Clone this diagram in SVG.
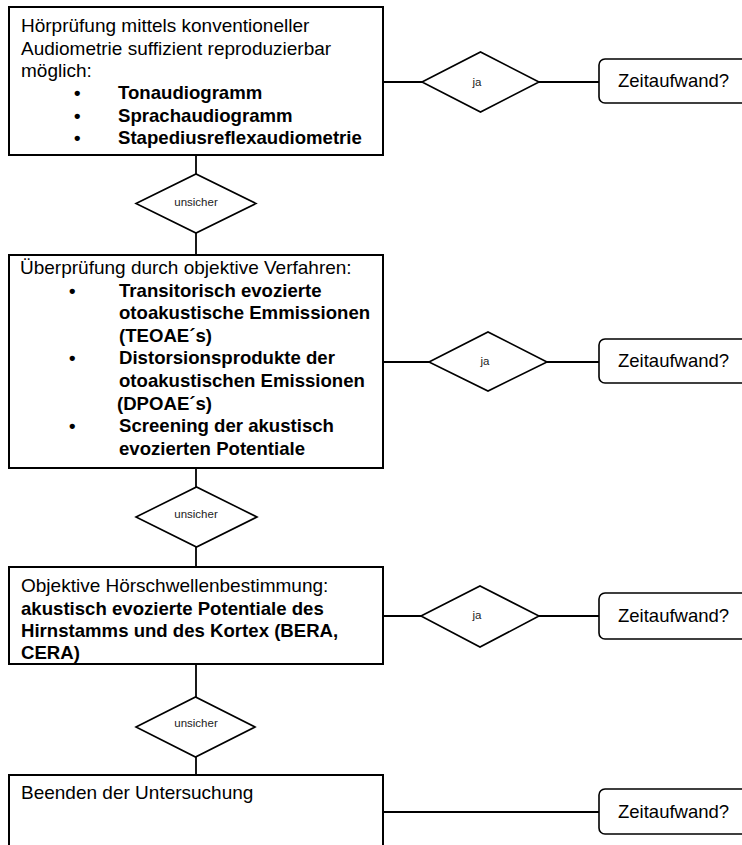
<svg xmlns="http://www.w3.org/2000/svg" width="742" height="845" viewBox="0 0 742 845">
<style>
.box{fill:#fff;stroke:#000;stroke-width:2}
.dia{fill:#fff;stroke:#000;stroke-width:1.6}
.rr{fill:#fff;stroke:#000;stroke-width:1.6}
.con{fill:none;stroke:#000;stroke-width:1.8}
text{font-family:"Liberation Sans",Arial,sans-serif;fill:#000}
.t{font-size:19px}
.b{font-size:18.6px;font-weight:bold}
.s{font-size:11.5px;fill:#222}
.z{font-size:18.5px}
</style>
<rect width="742" height="845" fill="#fff"/>
<g id="connectors">
<line class="con" x1="383" y1="82" x2="422" y2="82"/>
<line class="con" x1="539" y1="82" x2="599" y2="82"/>
<line class="con" x1="383" y1="362" x2="429" y2="362"/>
<line class="con" x1="547" y1="362" x2="599" y2="362"/>
<line class="con" x1="383" y1="616" x2="421" y2="616"/>
<line class="con" x1="539" y1="616" x2="599" y2="616"/>
<line class="con" x1="383" y1="812" x2="599" y2="812"/>
<line class="con" x1="196" y1="155" x2="196" y2="174"/>
<line class="con" x1="196" y1="233" x2="196" y2="255"/>
<line class="con" x1="196" y1="468" x2="196" y2="487"/>
<line class="con" x1="196" y1="547" x2="196" y2="567"/>
<line class="con" x1="196" y1="664" x2="196" y2="697"/>
<line class="con" x1="196" y1="757" x2="196" y2="775"/>
</g>
<g id="box1">
<rect class="box" x="9" y="7" width="374" height="148"/>
<text class="t" x="21" y="32">Hörprüfung mittels konventioneller</text>
<text class="t" x="21" y="54.5">Audiometrie suffizient reproduzierbar</text>
<text class="t" x="21" y="77">möglich:</text>
<text class="b" x="74" y="99">•</text>
<text class="b" x="74" y="121.5">•</text>
<text class="b" x="74" y="144">•</text>
<text class="b" x="118" y="99">Tonaudiogramm</text>
<text class="b" x="118" y="121.5">Sprachaudiogramm</text>
<text class="b" x="118" y="144">Stapediusreflexaudiometrie</text>
</g>
<g id="ja1">
<polygon class="dia" points="422,82 480.5,52 539,82 480.5,112"/>
<text class="s" x="477" y="86" text-anchor="middle">ja</text>
</g>
<g id="zeit1">
<rect class="rr" x="599" y="59" width="160" height="44" rx="6"/>
<text class="z" x="618" y="87">Zeitaufwand?</text>
</g>
<g id="unsicher1">
<polygon class="dia" points="136,203.5 196,174 256,203.5 196,233"/>
<text class="s" x="196" y="206" text-anchor="middle">unsicher</text>
</g>
<g id="box2">
<rect class="box" x="9" y="255" width="374" height="213"/>
<text class="t" x="20" y="274">Überprüfung durch objektive Verfahren:</text>
<text class="b" x="69" y="296.6">•</text>
<text class="b" x="69" y="364.4">•</text>
<text class="b" x="69" y="432.2">•</text>
<text class="b" x="119" y="296.6">Transitorisch evozierte</text>
<text class="b" x="119" y="319.2">otoakustische Emmissionen</text>
<text class="b" x="119" y="341.8">(TEOAE´s)</text>
<text class="b" x="119" y="364.4">Distorsionsprodukte der</text>
<text class="b" x="119" y="387">otoakustischen Emissionen</text>
<text class="b" x="117" y="409.6">(DPOAE´s)</text>
<text class="b" x="119" y="432.2">Screening der akustisch</text>
<text class="b" x="119" y="454.8">evozierten Potentiale</text>
</g>
<g id="ja2">
<polygon class="dia" points="429,362 488,332 547,362 488,391"/>
<text class="s" x="485" y="365" text-anchor="middle">ja</text>
</g>
<g id="zeit2">
<rect class="rr" x="599" y="339" width="160" height="44" rx="6"/>
<text class="z" x="618" y="367">Zeitaufwand?</text>
</g>
<g id="unsicher2">
<polygon class="dia" points="136,517 196.5,487 257,517 196.5,547"/>
<text class="s" x="196" y="518" text-anchor="middle">unsicher</text>
</g>
<g id="box3">
<rect class="box" x="9" y="567" width="374" height="97"/>
<text class="t" x="21" y="592">Objektive Hörschwellenbestimmung:</text>
<text class="b" x="21" y="614.5">akustisch evozierte Potentiale des</text>
<text class="b" x="21" y="637">Hirnstamms und des Kortex (BERA,</text>
<text class="b" x="21" y="658.5">CERA)</text>
</g>
<g id="ja3">
<polygon class="dia" points="421,616 480,586 539,616 480,647"/>
<text class="s" x="477" y="619" text-anchor="middle">ja</text>
</g>
<g id="zeit3">
<rect class="rr" x="599" y="593" width="160" height="46" rx="6"/>
<text class="z" x="618" y="622">Zeitaufwand?</text>
</g>
<g id="unsicher3">
<polygon class="dia" points="136,727 195.5,697 255,727 195.5,757"/>
<text class="s" x="196" y="727" text-anchor="middle">unsicher</text>
</g>
<g id="box4">
<rect class="box" x="9" y="775" width="374" height="90"/>
<text class="t" x="21" y="799">Beenden der Untersuchung</text>
</g>
<g id="zeit4">
<rect class="rr" x="599" y="789" width="160" height="45" rx="6"/>
<text class="z" x="618" y="818">Zeitaufwand?</text>
</g>
</svg>
